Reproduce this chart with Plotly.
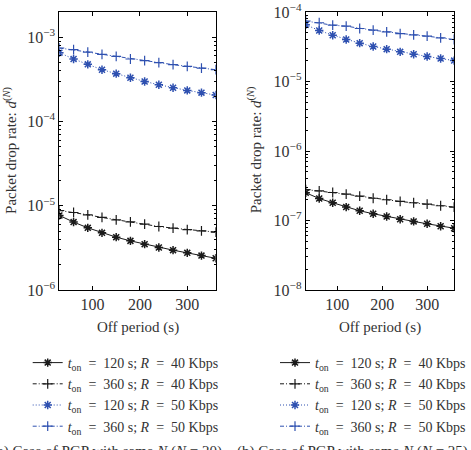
import plotly.graph_objects as go

off_period = [30, 60, 90, 120, 150, 180, 210, 240, 270, 300, 330, 360]

# (a) N = 20
a_120_40 = [7.67e-6, 6.40e-6, 5.47e-6, 4.77e-6, 4.24e-6, 3.83e-6, 3.50e-6, 3.19e-6, 2.97e-6, 2.76e-6, 2.56e-6, 2.38e-6]
a_360_40 = [8.79e-6, 8.32e-6, 7.81e-6, 7.26e-6, 6.81e-6, 6.45e-6, 6.06e-6, 5.67e-6, 5.42e-6, 5.22e-6, 5.04e-6, 4.87e-6]
a_120_50 = [6.56e-4, 5.52e-4, 4.77e-4, 4.12e-4, 3.70e-4, 3.31e-4, 2.99e-4, 2.73e-4, 2.52e-4, 2.34e-4, 2.20e-4, 2.06e-4]
a_360_50 = [7.46e-4, 7.13e-4, 6.68e-4, 6.28e-4, 5.94e-4, 5.52e-4, 5.27e-4, 4.99e-4, 4.73e-4, 4.52e-4, 4.31e-4, 4.12e-4]

# (b) N = 25
b_120_40 = [2.51e-7, 2.07e-7, 1.80e-7, 1.56e-7, 1.38e-7, 1.25e-7, 1.14e-7, 1.04e-7, 9.7e-8, 8.97e-8, 8.28e-8, 7.74e-8]
b_360_40 = [2.79e-7, 2.67e-7, 2.53e-7, 2.39e-7, 2.24e-7, 2.09e-7, 1.99e-7, 1.88e-7, 1.80e-7, 1.72e-7, 1.63e-7, 1.56e-7]
b_120_50 = [6.55e-5, 5.42e-5, 4.64e-5, 4.02e-5, 3.56e-5, 3.19e-5, 2.92e-5, 2.67e-5, 2.47e-5, 2.29e-5, 2.14e-5, 2.0e-5]
b_360_50 = [7.42e-5, 7.0e-5, 6.46e-5, 6.25e-5, 5.79e-5, 5.47e-5, 5.19e-5, 4.9e-5, 4.69e-5, 4.49e-5, 4.25e-5, 4.02e-5]

names = [
    "<i>t</i><sub>on</sub> &nbsp;= &nbsp;120 s; <i>R</i> &nbsp;= &nbsp;40 Kbps",
    "<i>t</i><sub>on</sub> &nbsp;= &nbsp;360 s; <i>R</i> &nbsp;= &nbsp;40 Kbps",
    "<i>t</i><sub>on</sub> &nbsp;= &nbsp;120 s; <i>R</i> &nbsp;= &nbsp;50 Kbps",
    "<i>t</i><sub>on</sub> &nbsp;= &nbsp;360 s; <i>R</i> &nbsp;= &nbsp;50 Kbps",
]
x_ticks = [100, 200, 300]
a_major = [1e-6, 1e-5, 1e-4, 1e-3]
b_major = [1e-8, 1e-7, 1e-6, 1e-5, 1e-4]
a_labels = ["10<sup>−6</sup>", "10<sup>−5</sup>", "10<sup>−4</sup>", "10<sup>−3</sup>"]
b_labels = ["10<sup>−8</sup>", "10<sup>−7</sup>", "10<sup>−6</sup>", "10<sup>−5</sup>", "10<sup>−4</sup>"]

BLACK = "#1a1a1a"
BLUE = "#2e50b0"
FONT = "Liberation Serif"
TXT = "#333333"

styles = [
    dict(color=BLACK, dash="solid", symbol="asterisk-open", size=7, lw=1.5),
    dict(color=BLACK, dash="4px,2px,1px,2px", symbol="cross-thin-open", size=7, lw=1.2),
    dict(color=BLUE, dash="1px,2px", symbol="asterisk-open", size=7, lw=1.5),
    dict(color=BLUE, dash="4px,2px,1px,2px", symbol="cross-thin-open", size=7, lw=1.2),
]

fig = go.Figure()

def add_set(series, xa, ya, legend):
    for s, name, st in zip(series, names, styles):
        fig.add_trace(go.Scatter(
            x=off_period, y=s, name=name, mode="lines+markers",
            xaxis=xa, yaxis=ya, legend=legend,
            line=dict(color=st["color"], dash=st["dash"], width=1),
            marker=dict(symbol=st["symbol"], size=st["size"], color=st["color"],
                        line=dict(color=st["color"], width=st["lw"])),
        ))

add_set([a_120_40, a_360_40, a_120_50, a_360_50], "x", "y", "legend")
add_set([b_120_40, b_360_40, b_120_50, b_360_50], "x2", "y2", "legend2")

def minor_vals(lo, hi):
    vals = []
    for e in range(lo, hi):
        for m in range(2, 10):
            vals.append(m * 10 ** e)
    return vals

axis_common = dict(showline=True, linecolor="black", linewidth=1, mirror="allticks",
                   ticks="inside", ticklen=4, tickcolor="black", showgrid=False,
                   zeroline=False, automargin=False,
                   tickfont=dict(family=FONT, size=16, color=TXT))

legend_style = dict(xanchor="left", yanchor="top", bgcolor="rgba(0,0,0,0)",
                    font=dict(family=FONT, size=14, color=TXT),
                    tracegroupgap=0, itemwidth=30)

fig.update_layout(
    width=471, height=450,
    margin=dict(l=0, r=0, t=0, b=0),
    paper_bgcolor="white", plot_bgcolor="white",
    font=dict(family=FONT, size=14, color=TXT),
    xaxis=dict(domain=[60/471, 218/471], range=[30, 360], tickvals=x_ticks,
               anchor="y", **axis_common),
    yaxis=dict(domain=[1-290/450, 1-12/450], type="log", range=[-6, -2.7],
               tickvals=a_major, ticktext=a_labels, anchor="x",
               minor=dict(tickvals=minor_vals(-6, -2), ticks="inside", ticklen=2, tickcolor="black"),
               **axis_common),
    xaxis2=dict(domain=[309/471, 459/471], range=[30, 360], tickvals=x_ticks,
                anchor="y2", **axis_common),
    yaxis2=dict(domain=[1-290/450, 1-12/450], type="log", range=[-8, -4],
                tickvals=b_major, ticktext=b_labels, anchor="x2",
                minor=dict(tickvals=minor_vals(-8, -4), ticks="inside", ticklen=2, tickcolor="black"),
                **axis_common),
    legend=dict(x=28/471, y=1-347/450, **legend_style),
    legend2=dict(x=278/471, y=1-347/450, **legend_style),
    showlegend=True,
)

annots = [
    dict(text="Off period (s)", x=139/471, y=1-327/450),
    dict(text="Off period (s)", x=384/471, y=1-327/450),
    dict(text="Packet drop rate: <i>d</i><sup>(<i>N</i>)</sup>", x=10/471, y=1-150/450, textangle=-90),
    dict(text="Packet drop rate: <i>d</i><sup>(<i>N</i>)</sup>", x=257/471, y=1-150/450, textangle=-90),
]
for a in annots:
    fig.add_annotation(xref="paper", yref="paper", showarrow=False,
                       xanchor="center", yanchor="middle",
                       font=dict(family=FONT, size=15, color=TXT), **a)

fig.add_annotation(xref="paper", yref="paper", showarrow=False, xanchor="center", yanchor="top",
                   x=108/471, y=1-441/450, text="(a) Case of PGP with same <i>N</i> (<i>N</i> = 20)",
                   font=dict(family=FONT, size=15, color=TXT))
fig.add_annotation(xref="paper", yref="paper", showarrow=False, xanchor="center", yanchor="top",
                   x=356/471, y=1-441/450, text="(b) Case of PGP with same <i>N</i> (<i>N</i> = 25)",
                   font=dict(family=FONT, size=15, color=TXT))

fig.write_html("out.html")
